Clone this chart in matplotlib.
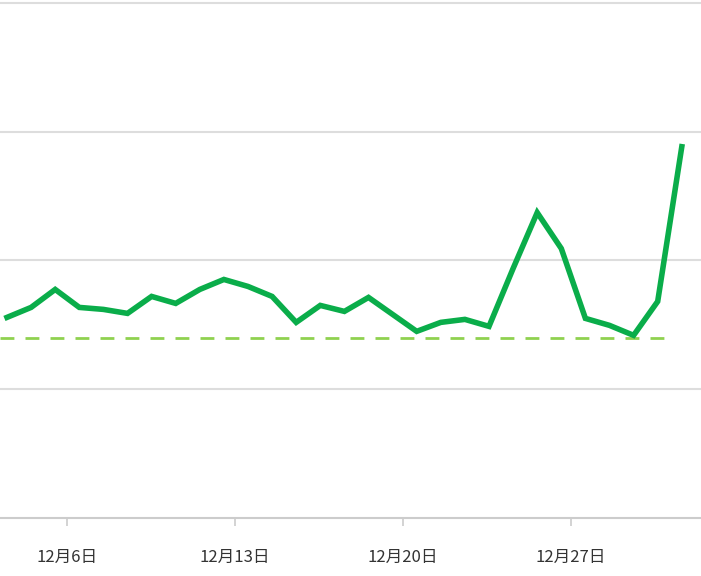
import matplotlib
matplotlib.use("Agg")
import matplotlib.pyplot as plt

days = [3.5 + i * 24.1 / 24 for i in range(29)]
pix = [317,307,289,307,309,313,296,303,289,279,286,296,322,305,311,297,314,331,322,319,326,268,212,248,318,325,335,301,146]
values = [(518 - p) / 129 for p in pix]
avg = (518 - 338) / 129
tick_days = [6, 13, 20, 27]
tick_labels = ["12月6日", "12月13日", "12月20日", "12月27日"]

plt.rcParams['font.family'] = ['Noto Sans CJK SC', 'DejaVu Sans']
fig = plt.figure(figsize=(7.01, 5.76), dpi=100)
ax = fig.add_axes([0, 58/576, 1, 518/576])
x0 = 6 - 67/24
ax.set_xlim(x0, x0 + 701/24)
ax.set_ylim(0, 4 + 3/129)
for g in [1, 2, 3, 4]:
    ax.axhline(g, color='#dddddd', lw=1.5, zorder=0)
ax.hlines(avg, x0, x0 + 672/24, color='#8fd14f', lw=2, ls=(0, (5, 4)), zorder=1)
ax.plot(days, values, color='#0aad4a', lw=4, solid_joinstyle='miter', zorder=2)
for s in ['left', 'right', 'top']:
    ax.spines[s].set_visible(False)
ax.spines['bottom'].set_color('#cccccc')
ax.spines['bottom'].set_linewidth(1.5)
ax.set_yticks([])
ax.set_xticks(tick_days)
ax.set_xticklabels(tick_labels, fontsize=12, color='#333333')
ax.tick_params(axis='x', length=6, color='#cccccc', width=1.2, pad=16)
fig.savefig("out.png", dpi=100)
